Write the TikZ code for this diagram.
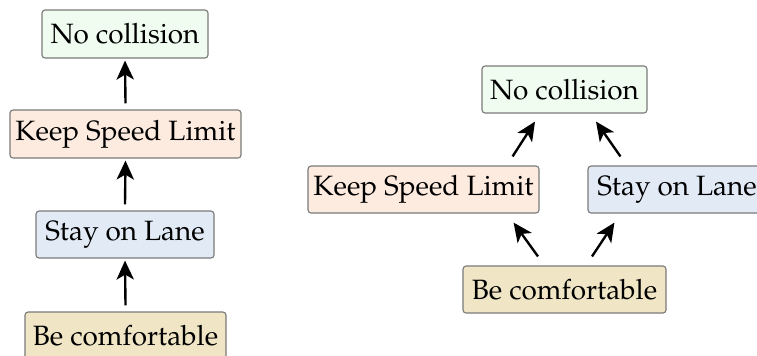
\documentclass[tikz,border=0pt]{standalone}
\IfFileExists{mathpazo.sty}{%
  \usepackage[T1]{fontenc}\usepackage{mathpazo}\newcommand\goalfont{\fontsize{10pt}{12pt}\selectfont}}{%
  \usepackage{fontspec}\setmainfont{Liberation Serif}\newcommand\goalfont{\fontsize{11pt}{13pt}\selectfont}}
\usetikzlibrary{arrows.meta}
\definecolor{cgreen}{HTML}{EFFCEF}
\definecolor{cpeach}{HTML}{FDEBE0}
\definecolor{cblue}{HTML}{E2EAF6}
\definecolor{ctan}{HTML}{F0E6C6}
\definecolor{cborder}{HTML}{7A7A7A}
\tikzset{
  goalbox/.style={draw=cborder, line width=0.4pt, rounded corners=1.1pt, inner sep=0pt,
    minimum height=#1*0.358pt, font=\goalfont},
  goalbox/.default=48,
  arr/.style={-{Stealth[length=6.8pt,width=6.2pt,inset=1.8pt]}, line width=0.85pt},
}
\begin{document}
\begin{tikzpicture}[x=0.358pt, y=-0.358pt]
\useasboundingbox (0,0) rectangle (757,355);
% left chain
\node[goalbox, fill=cgreen, minimum width=166*0.358pt] (lnc) at (125,34) {No collision};
\node[goalbox, fill=cpeach, minimum width=231*0.358pt] (lksl) at (125.5,134) {Keep Speed Limit};
\node[goalbox=47, fill=cblue, minimum width=178*0.358pt] (lsol) at (125,234.5) {Stay on Lane};
\node[goalbox, fill=ctan, minimum width=201*0.358pt] (lbc) at (125.5,336) {Be comfortable};
\draw[arr] ([shift={(0,-6)}]lksl.north) -- ([shift={(0,2)}]lnc.south);
\draw[arr] ([shift={(0,-6)}]lsol.north) -- ([shift={(0,2)}]lksl.south);
\draw[arr] ([shift={(0,-6)}]lbc.north) -- ([shift={(0,2)}]lsol.south);
% right diamond
\node[goalbox=47, fill=cgreen, minimum width=165*0.358pt] (rnc) at (564.5,89.5) {No collision};
\node[goalbox=47, fill=cpeach, minimum width=231*0.358pt] (rksl) at (423.5,189.5) {Keep Speed Limit};
\node[goalbox=47, fill=cblue, minimum width=178*0.358pt] (rsol) at (677,189.5) {Stay on Lane};
\node[goalbox=47, fill=ctan, minimum width=203*0.358pt] (rbc) at (564.5,289.5) {Be comfortable};
\draw[arr] ([shift={(-27,-9)}]rksl.north east) -- ([shift={(-29.5,8)}]rnc.south);
\draw[arr] ([shift={(33,-9)}]rsol.north west) -- ([shift={(31.5,8)}]rnc.south);
\draw[arr] ([shift={(-26.5,-9)}]rbc.north) -- ([shift={(-26,9)}]rksl.south east);
\draw[arr] ([shift={(27.5,-9)}]rbc.north) -- ([shift={(27,9)}]rsol.south west);
\end{tikzpicture}
\end{document}
